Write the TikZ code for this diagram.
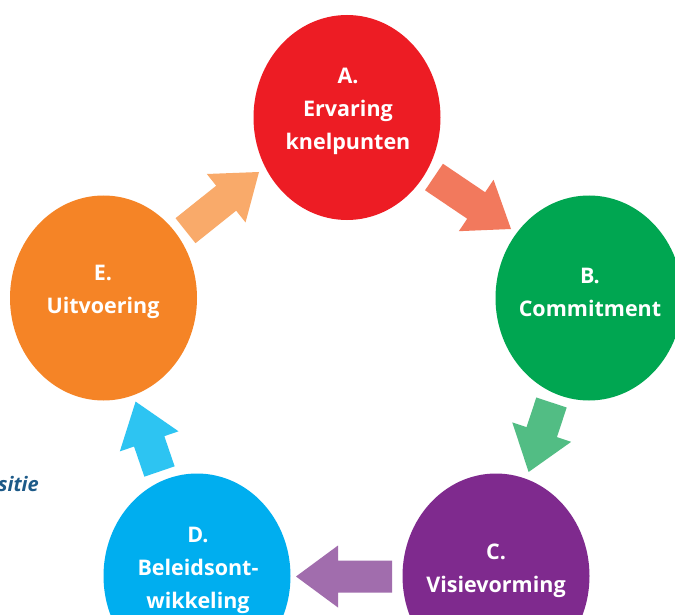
\documentclass[tikz,border=0pt]{standalone}
\usepackage{fontspec}
\setmainfont{Open Sans}
\usetikzlibrary{shapes.geometric,calc}
\definecolor{cA}{HTML}{ED1C24}
\definecolor{cB}{HTML}{00A651}
\definecolor{cC}{HTML}{7F2A8E}
\definecolor{cD}{HTML}{00AEEF}
\definecolor{cE}{HTML}{F58426}
\definecolor{aAB}{HTML}{F2795D}
\definecolor{aBC}{HTML}{52BD84}
\definecolor{aCD}{HTML}{A16DAD}
\definecolor{aDE}{HTML}{2DC4F2}
\definecolor{aEA}{HTML}{F9AA6A}
\definecolor{side}{HTML}{1D5A88}
\newcommand{\blockarr}[3]{%
  \coordinate (hb) at ($(#2)!42pt!(#1)$);
  \fill[#3] ($(#1)!16pt!90:(#2)$) -- ($(hb)!16pt!-90:(#1)$) -- ($(hb)!31pt!-90:(#1)$)
    -- (#2) -- ($(hb)!31pt!90:(#1)$) -- ($(hb)!16pt!90:(#1)$) -- ($(#1)!16pt!-90:(#2)$) -- cycle;
}
\begin{document}
\begin{tikzpicture}[x=1pt,y=-1pt,
  stage/.style={ellipse,minimum width=187pt,minimum height=205pt,inner sep=0pt,draw=none},
  lbl/.style={text=white,align=center,font=\fontsize{21.5}{33}\selectfont\bfseries}]
\useasboundingbox (0,0) rectangle (675,615);
\clip (0,0) rectangle (675,615);
\fill[white] (0,0) rectangle (675,615);
\node[stage,fill=cA] (A) at (347,117.5) {};
\node[stage,fill=cB] (B) at (589,298) {};
\node[stage,fill=cC] (C) at (496,576) {};
\node[stage,fill=cD] (D) at (197,576) {};
\node[stage,fill=cE] (E) at (103.5,298) {};
\node[lbl] (tA) at (348,111.5) {A.\\Ervaring\\knelpunten};
\node[lbl] (tB) at (590,292) {B.\\Commitment};
\node[lbl] (tC) at (496,570.5) {C.\\Visievorming};
\node[lbl] (tD) at (198,570.5) {D.\\Beleidsont-\\wikkeling};
\node[lbl] (tE) at (103,292) {E.\\Uitvoering};
\coordinate (ABt) at (434,177);   \coordinate (ABh) at (511,229);
\coordinate (BCt) at (551.5,402.5); \coordinate (BCh) at (528.6,472);
\coordinate (CDt) at (392,576.5); \coordinate (CDh) at (296,576.5);
\coordinate (DEt) at (159.5,471.5); \coordinate (DEh) at (135.6,401.6);
\coordinate (EAt) at (185.5,230.7); \coordinate (EAh) at (259,172);
\blockarr{ABt}{ABh}{aAB}
\blockarr{BCt}{BCh}{aBC}
\blockarr{CDt}{CDh}{aCD}
\blockarr{DEt}{DEh}{aDE}
\blockarr{EAt}{EAh}{aEA}
\node[anchor=base east,inner sep=0pt,text=side,font=\fontsize{20}{24}\selectfont\bfseries\itshape] (side) at (39,491.5) {sitie};
\end{tikzpicture}
\end{document}
